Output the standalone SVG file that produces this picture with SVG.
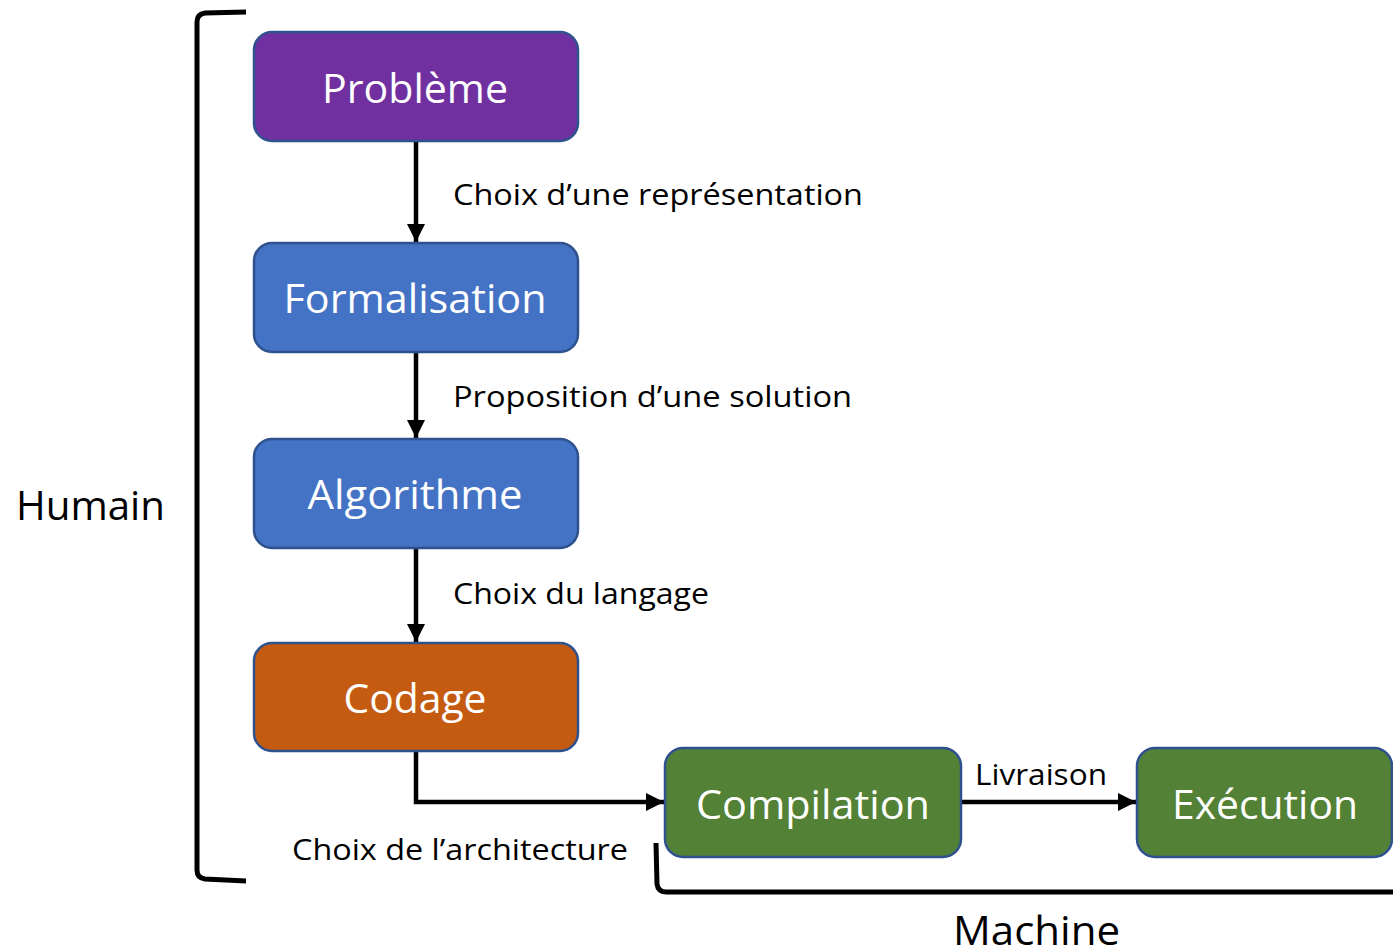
<svg xmlns="http://www.w3.org/2000/svg" width="1393" height="950" viewBox="0 0 1393 950">
<defs>
<style>
.box{stroke:#2F528F;stroke-width:2.5}
.lbl{fill:#fff;font-family:"Open Sans","Liberation Sans",sans-serif;font-size:40px;text-anchor:middle}
.t{fill:#000;font-family:"Open Sans","Liberation Sans",sans-serif;font-size:30px}
.big{fill:#000;font-family:"Open Sans","Liberation Sans",sans-serif;font-size:40px}
.c{fill:none;stroke:#000;stroke-width:4.5}
.br{fill:none;stroke:#000;stroke-width:5}
</style>
<marker id="ah" viewBox="0 0 10 10" refX="10" refY="5" markerWidth="4" markerHeight="4" orient="auto" markerUnits="strokeWidth">
<path d="M0,0 L10,5 L0,10 z" fill="#000"/>
</marker>
</defs>
<rect width="1393" height="950" fill="#fff"/>
<g id="connectors">
<line class="c" x1="416" y1="141" x2="416" y2="242" marker-end="url(#ah)"/>
<line class="c" x1="416" y1="352" x2="416" y2="438" marker-end="url(#ah)"/>
<line class="c" x1="416" y1="548" x2="416" y2="642" marker-end="url(#ah)"/>
<polyline class="c" points="416,751 416,802 664,802" marker-end="url(#ah)"/>
<line class="c" x1="961" y1="802" x2="1136" y2="802" marker-end="url(#ah)"/>
<text class="t" x="453" y="205" textLength="410" lengthAdjust="spacingAndGlyphs">Choix d’une représentation</text>
<text class="t" x="453" y="407" textLength="399" lengthAdjust="spacingAndGlyphs">Proposition d’une solution</text>
<text class="t" x="453" y="604" textLength="256" lengthAdjust="spacingAndGlyphs">Choix du langage</text>
<text class="t" x="292" y="860" textLength="336" lengthAdjust="spacingAndGlyphs">Choix de l’architecture</text>
<text class="t" x="975" y="785" textLength="132" lengthAdjust="spacingAndGlyphs">Livraison</text>
</g>
<g id="bracket-humain">
<path class="br" d="M246,12 L205,13 Q197,14 197,22 L197,870 Q197,878 205,879 L246,881"/>
<text class="big" x="16" y="520" textLength="149" lengthAdjust="spacingAndGlyphs">Humain</text>
</g>
<g id="bracket-machine">
<path class="br" d="M656,843 L657,884 Q658,892 666,892 L1393,892"/>
<text class="big" x="953" y="945" textLength="167" lengthAdjust="spacingAndGlyphs">Machine</text>
</g>
<g id="probleme">
<rect class="box" x="254" y="32" width="324" height="109" rx="18" fill="#7030A0"/>
<text class="lbl" x="415" y="103" textLength="186" lengthAdjust="spacingAndGlyphs">Problème</text>
</g>
<g id="formalisation">
<rect class="box" x="254" y="243" width="324" height="109" rx="18" fill="#4472C4"/>
<text class="lbl" x="415" y="313" textLength="263" lengthAdjust="spacingAndGlyphs">Formalisation</text>
</g>
<g id="algorithme">
<rect class="box" x="254" y="439" width="324" height="109" rx="18" fill="#4472C4"/>
<text class="lbl" x="415" y="509" textLength="215" lengthAdjust="spacingAndGlyphs">Algorithme</text>
</g>
<g id="codage">
<rect class="box" x="254" y="643" width="324" height="108" rx="18" fill="#C55A11"/>
<text class="lbl" x="415" y="713" textLength="143" lengthAdjust="spacingAndGlyphs">Codage</text>
</g>
<g id="compilation">
<rect class="box" x="665" y="748" width="296" height="109" rx="18" fill="#538135"/>
<text class="lbl" x="813" y="819" textLength="234" lengthAdjust="spacingAndGlyphs">Compilation</text>
</g>
<g id="execution">
<rect class="box" x="1137" y="748" width="255" height="109" rx="18" fill="#538135"/>
<text class="lbl" x="1265" y="819" textLength="186" lengthAdjust="spacingAndGlyphs">Exécution</text>
</g>
</svg>
